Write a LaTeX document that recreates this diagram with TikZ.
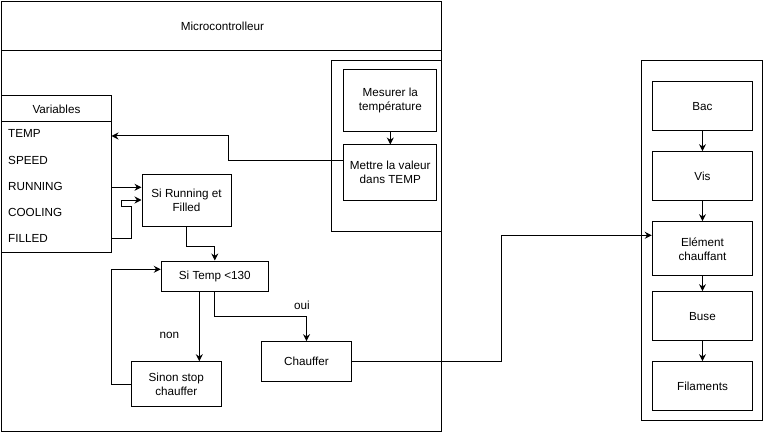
\documentclass[tikz,border=0pt]{standalone}
\usepackage{fontspec}
\setmainfont{Liberation Sans}
\usetikzlibrary{arrows.meta}
\begin{document}
\begin{tikzpicture}[x=1pt,y=-1pt,
  every node/.style={font=\fontsize{11.7}{14}\selectfont, text=black},
  box/.style={draw, line width=1pt, inner sep=0pt, align=center},
  item/.style={inner sep=0pt, anchor=west},
  arr/.style={line width=1pt, -{Stealth[length=7pt,width=7pt]}},
  ln/.style={line width=1pt}]
\useasboundingbox (0,0) rectangle (763,433);
% Microcontroller container
\node[box, minimum width=440pt, minimum height=430pt] (mc) at (221.5,216.5) {};
\node (mctitle) at (222.5,26) {Microcontrolleur};
\draw[ln] (1.5,51) -- (441.5,51);
% Variables
\node[box, minimum width=110pt, minimum height=156pt, fill=white] (vars) at (56.5,174) {};
\draw[ln] (1.5,122) -- (111.5,122);
\node (vtitle) at (56.5,109.5) {Variables};
\node[item] (vtemp) at (8,133.3) {TEMP};
\node[item] (vspeed) at (8,160) {SPEED};
\node[item] (vrun) at (8,186.3) {RUNNING};
\node[item] (vcool) at (8,212.3) {COOLING};
\node[item] (vfill) at (8,238.3) {FILLED};
\coordinate (ctemp) at (111.5,136);
\coordinate (crun) at (111.5,187.3);
\coordinate (cfill) at (111.5,238.8);
% Sub container
\node[box, minimum width=110.5pt, minimum height=170pt] (sub) at (386.25,146) {};
\node[box, minimum width=92.7pt, minimum height=61.7pt] (mesurer) at (390.3,100.8) {Mesurer la\\température};
\node[box, minimum width=92.7pt, minimum height=55pt] (mettre) at (390.3,172.5) {Mettre la valeur\\dans TEMP};
% Logic
\node[box, minimum width=89pt, minimum height=52pt] (sirun) at (186.5,200) {Si Running et\\Filled};
\node[box, minimum width=107pt, minimum height=30pt] (sitemp) at (214.8,276) {Si Temp <130};
\node[box, minimum width=90pt, minimum height=45pt] (sinon) at (176.3,384.2) {Sinon stop\\chauffer};
\node[box, minimum width=90.4pt, minimum height=39.6pt] (chauffer) at (306.5,361.5) {Chauffer};
\node (non) at (169.3,335) {non};
\node (oui) at (302,305) {oui};
% Right container
\node[box, minimum width=120.3pt, minimum height=359.7pt] (machine) at (701.85,240.85) {};
\node[box, minimum width=100.4pt, minimum height=49.3pt] (bac) at (702.5,106.3) {Bac};
\node[box, minimum width=100.4pt, minimum height=49.3pt] (vis) at (702.5,176.3) {Vis};
\node[box, minimum width=100.4pt, minimum height=54.3pt] (elem) at (702.5,248.8) {Elément\\chauffant};
\node[box, minimum width=100.4pt, minimum height=49.3pt] (buse) at (702.5,316.3) {Buse};
\node[box, minimum width=100.4pt, minimum height=49.3pt] (fil) at (702.5,386.3) {Filaments};
% Connectors
\draw[arr] (mesurer) -- (mettre);
\draw[arr] ([yshift=11.5pt]mettre.west) -- (228,161) |- (ctemp);
\draw[arr] (crun) -- (crun -| sirun.west);
\draw[arr] (cfill) -| (131.7,206) -| (121.7,200) -- (sirun.west);
\draw[arr] (sirun.south) -- ++(0,20) -| (sitemp.north);
\draw[arr] ([xshift=-15.5pt]sitemp.south) -- ([xshift=-15.5pt]sitemp.south |- sinon.north);
\draw[arr] (sitemp.south) -- ++(0,25) -| (chauffer.north);
\draw[arr] (sinon.west) -- ++(-19.6,0) |- ([yshift=6.7pt]sitemp.west);
\draw[arr] (chauffer.east) -- ++(149.6,0) |- ([yshift=13.5pt]elem.west);
\draw[arr] (bac) -- (vis);
\draw[arr] (vis) -- (elem);
\draw[arr] (elem) -- (buse);
\draw[arr] (buse) -- (fil);
\end{tikzpicture}
\end{document}
